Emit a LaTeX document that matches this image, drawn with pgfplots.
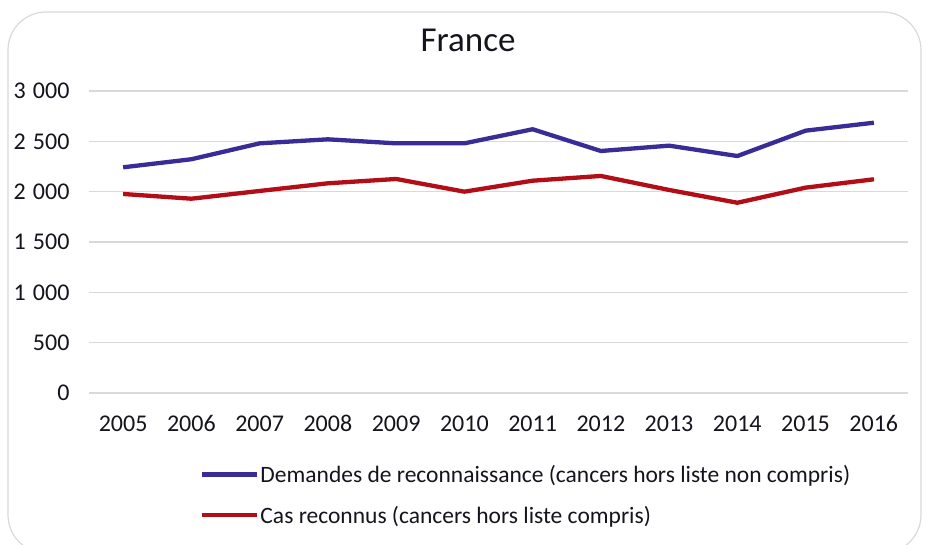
\documentclass[border=0pt]{standalone}
\usepackage{pgfplots}
\pgfplotsset{compat=1.18}
\usepackage{fontspec}
\setmainfont{Carlito}
\definecolor{cblue}{RGB}{58,44,150}
\definecolor{cred}{RGB}{178,14,24}
\definecolor{cgrid}{RGB}{217,217,217}
\definecolor{ctext}{RGB}{20,20,28}
\begin{document}
\begin{tikzpicture}
\path[use as bounding box] (0,0) rectangle (926bp,545bp);
\draw[cgrid, line width=1.2bp, rounded corners=38bp] (8bp,-8bp) rectangle (921bp,533bp);
\node[font=\fontsize{35bp}{40bp}\selectfont, text=ctext] at (468bp,505bp) {France};
\begin{axis}[
  at={(89bp,152bp)}, anchor=south west,
  scale only axis, width=819bp, height=302bp,
  xmin=2004.5, xmax=2016.5, ymin=0, ymax=3000,
  xtick={2005,...,2016}, ytick={0,500,...,3000},
  axis line style={draw=none},
  tick style={draw=none},
  ymajorgrids, major grid style={cgrid, line width=1.4bp},
  /pgf/number format/assume math mode=true,
  yticklabel style={/pgf/number format/1000 sep={\hspace{0.3em}}, font=\fontsize{24bp}{27bp}\selectfont, text=ctext, xshift=-16bp},
  xticklabel style={/pgf/number format/1000 sep={}, font=\fontsize{24bp}{27bp}\selectfont, text=ctext, yshift=-19bp},
  legend style={at={(0.1355,-0.235)}, anchor=north west, draw=none, fill=none, inner sep=0pt,
    row sep=20bp, font=\fontsize{23.5bp}{27bp}\selectfont, text=ctext, nodes={inner sep=1bp}},
  legend cell align=left,
  legend image code/.code={\draw[#1] (0bp,0bp) -- (55bp,0bp);},
]
\addplot[cblue, line width=4.3bp] coordinates {
(2005,2242) (2006,2322) (2007,2480) (2008,2520) (2009,2480) (2010,2480)
(2011,2620) (2012,2404) (2013,2457) (2014,2354) (2015,2606) (2016,2685)};
\addlegendentry{Demandes de reconnaissance (cancers hors liste non compris)}
\addplot[cred, line width=4.3bp] coordinates {
(2005,1977) (2006,1930) (2007,2007) (2008,2083) (2009,2126) (2010,2000)
(2011,2109) (2012,2156) (2013,2017) (2014,1890) (2015,2040) (2016,2123)};
\addlegendentry{Cas reconnus (cancers hors liste compris)}
\end{axis}
\end{tikzpicture}
\end{document}
